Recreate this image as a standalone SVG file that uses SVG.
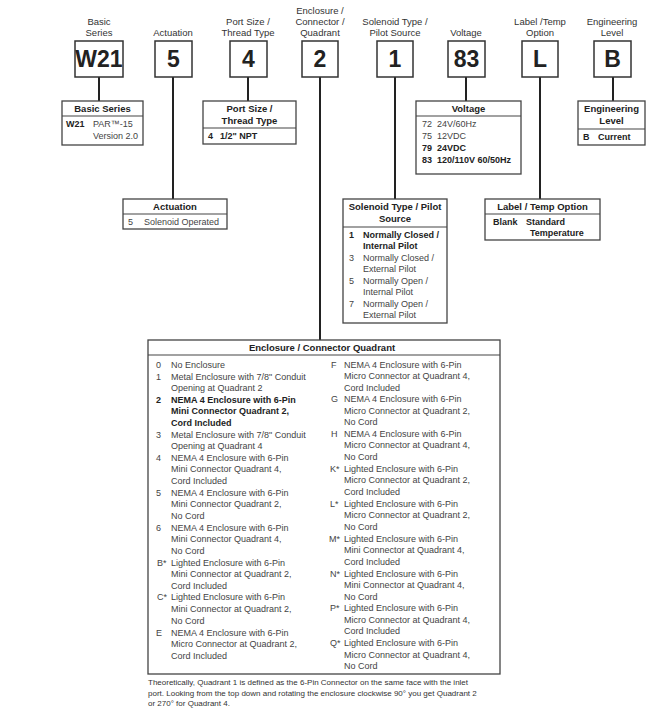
<svg xmlns="http://www.w3.org/2000/svg" width="650" height="709" viewBox="0 0 650 709">
<style>
.lbl{font-family:"Liberation Sans",Arial,sans-serif;font-size:9.5px;fill:#333;text-anchor:middle}
.code{font-family:"Liberation Sans",Arial,sans-serif;font-size:23px;font-weight:bold;fill:#222;text-anchor:middle}
.cbox{fill:#fff;stroke:#333;stroke-width:1.5}
.box{fill:#fff;stroke:#444;stroke-width:1.3}
.sep{stroke:#444;stroke-width:1.1}
.hd{font-family:"Liberation Sans",Arial,sans-serif;font-size:9.5px;font-weight:bold;fill:#222;text-anchor:middle}
.t{font-family:"Liberation Sans",Arial,sans-serif;font-size:9px;fill:#444}
.b{font-family:"Liberation Sans",Arial,sans-serif;font-size:9px;font-weight:bold;fill:#222}
.ft{font-family:"Liberation Sans",Arial,sans-serif;font-size:8px;fill:#333}
.con{stroke:#222;stroke-width:2;fill:none}
</style>
<rect width="650" height="709" fill="#fff"/>
<g id="connectors">
<line class="con" x1="99" y1="77" x2="99" y2="101"/>
<line class="con" x1="173" y1="77" x2="173" y2="199"/>
<line class="con" x1="248" y1="77" x2="248" y2="101"/>
<line class="con" x1="320" y1="77" x2="320" y2="340"/>
<line class="con" x1="395" y1="77" x2="395" y2="199"/>
<line class="con" x1="466" y1="77" x2="466" y2="101"/>
<line class="con" x1="540" y1="77" x2="540" y2="199"/>
<line class="con" x1="613" y1="77" x2="613" y2="101"/>
</g>
<g id="code-w21">
<text class="lbl" x="99" y="25">Basic</text><text class="lbl" x="99" y="36">Series</text>
<rect class="cbox" x="75" y="41" width="48" height="36"/><text class="code" x="99" y="67">W21</text>
</g>
<g id="code-5">
<text class="lbl" x="173" y="36">Actuation</text>
<rect class="cbox" x="155" y="41" width="37" height="36"/><text class="code" x="173.5" y="67">5</text>
</g>
<g id="code-4">
<text class="lbl" x="248" y="25">Port Size /</text><text class="lbl" x="248" y="36">Thread Type</text>
<rect class="cbox" x="230" y="41" width="37" height="36"/><text class="code" x="248.5" y="67">4</text>
</g>
<g id="code-2">
<text class="lbl" x="320" y="14">Enclosure /</text><text class="lbl" x="320" y="25">Connector /</text><text class="lbl" x="320" y="36">Quadrant</text>
<rect class="cbox" x="302" y="41" width="36" height="36"/><text class="code" x="320" y="67">2</text>
</g>
<g id="code-1">
<text class="lbl" x="395" y="25">Solenoid Type /</text><text class="lbl" x="395" y="36">Pilot Source</text>
<rect class="cbox" x="377" y="41" width="36" height="36"/><text class="code" x="395" y="67">1</text>
</g>
<g id="code-83">
<text class="lbl" x="466" y="36">Voltage</text>
<rect class="cbox" x="448" y="41" width="37" height="36"/><text class="code" x="466.5" y="67">83</text>
</g>
<g id="code-l">
<text class="lbl" x="540" y="25">Label /Temp</text><text class="lbl" x="540" y="36">Option</text>
<rect class="cbox" x="522" y="41" width="36" height="36"/><text class="code" x="540" y="67">L</text>
</g>
<g id="code-b">
<text class="lbl" x="612" y="25">Engineering</text><text class="lbl" x="612" y="36">Level</text>
<rect class="cbox" x="594" y="41" width="37" height="36"/><text class="code" x="612.5" y="67">B</text>
</g>
<g id="basic-series">
<rect class="box" x="62" y="101" width="81" height="44"/>
<line class="sep" x1="62" y1="116" x2="143" y2="116"/>
<text class="hd" x="102.5" y="112">Basic Series</text>
<text class="b" x="66" y="127">W21</text><text class="t" x="93" y="127">PAR™-15</text>
<text class="t" x="93" y="139">Version 2.0</text>
</g>
<g id="actuation">
<rect class="box" x="123" y="199" width="104" height="30"/>
<line class="sep" x1="123" y1="214" x2="227" y2="214"/>
<text class="hd" x="175" y="210">Actuation</text>
<text class="t" x="128" y="225">5</text><text class="t" x="144" y="225">Solenoid Operated</text>
</g>
<g id="port-size">
<rect class="box" x="203" y="101" width="93" height="43"/>
<line class="sep" x1="203" y1="128" x2="296" y2="128"/>
<text class="hd" x="249.5" y="112">Port Size /</text><text class="hd" x="249.5" y="124">Thread Type</text>
<text class="b" x="208" y="139">4</text><text class="b" x="220" y="139">1/2" NPT</text>
</g>
<g id="voltage">
<rect class="box" x="416" y="101" width="105" height="73"/>
<line class="sep" x1="416" y1="116" x2="521" y2="116"/>
<text class="hd" x="468.5" y="112">Voltage</text>
<text class="t" x="422" y="127">72</text><text class="t" x="437" y="127">24V/60Hz</text>
<text class="t" x="422" y="139">75</text><text class="t" x="437" y="139">12VDC</text>
<text class="b" x="422" y="151">79</text><text class="b" x="437" y="151">24VDC</text>
<text class="b" x="422" y="163">83</text><text class="b" x="437" y="163">120/110V 60/50Hz</text>
</g>
<g id="engineering-level">
<rect class="box" x="578" y="101" width="67" height="44"/>
<line class="sep" x1="578" y1="129" x2="645" y2="129"/>
<text class="hd" x="611.5" y="112">Engineering</text><text class="hd" x="611.5" y="124">Level</text>
<text class="b" x="583" y="140">B</text><text class="b" x="598" y="140">Current</text>
</g>
<g id="solenoid-type">
<rect class="box" x="343" y="199" width="104" height="124"/>
<line class="sep" x1="343" y1="227" x2="447" y2="227"/>
<text class="hd" x="395" y="210">Solenoid Type / Pilot</text><text class="hd" x="395" y="222">Source</text>
<text class="b" x="349" y="238">1</text><text class="b" x="363" y="238">Normally Closed /</text>
<text class="b" x="363" y="249">Internal Pilot</text>
<text class="t" x="349" y="261">3</text><text class="t" x="363" y="261">Normally Closed /</text>
<text class="t" x="363" y="272">External Pilot</text>
<text class="t" x="349" y="284">5</text><text class="t" x="363" y="284">Normally Open /</text>
<text class="t" x="363" y="295">Internal Pilot</text>
<text class="t" x="349" y="307">7</text><text class="t" x="363" y="307">Normally Open /</text>
<text class="t" x="363" y="318">External Pilot</text>
</g>
<g id="label-temp">
<rect class="box" x="485" y="199" width="115" height="41"/>
<line class="sep" x1="485" y1="214" x2="600" y2="214"/>
<text class="hd" x="542.5" y="210">Label / Temp Option</text>
<text class="b" x="493" y="225">Blank</text><text class="b" x="526" y="225">Standard</text>
<text class="b" x="530" y="236">Temperature</text>
</g>
<g id="enclosure">
<rect class="box" x="148" y="340" width="352" height="334"/>
<line class="sep" x1="148" y1="355" x2="500" y2="355"/>
<text class="hd" x="322" y="351">Enclosure / Connector Quadrant</text>
<text class="t" x="156" y="368">0</text><text class="t" x="171" y="368">No Enclosure</text>
<text class="t" x="156" y="380">1</text><text class="t" x="171" y="380">Metal Enclosure with 7/8" Conduit</text>
<text class="t" x="171" y="391">Opening at Quadrant 2</text>
<text class="b" x="156" y="403">2</text><text class="b" x="171" y="403">NEMA 4 Enclosure with 6-Pin</text>
<text class="b" x="171" y="414">Mini Connector Quadrant 2,</text>
<text class="b" x="171" y="426">Cord Included</text>
<text class="t" x="156" y="438">3</text><text class="t" x="171" y="438">Metal Enclosure with 7/8" Conduit</text>
<text class="t" x="171" y="449">Opening at Quadrant 4</text>
<text class="t" x="156" y="461">4</text><text class="t" x="171" y="461">NEMA 4 Enclosure with 6-Pin</text>
<text class="t" x="171" y="472">Mini Connector Quadrant 4,</text>
<text class="t" x="171" y="484">Cord Included</text>
<text class="t" x="156" y="496">5</text><text class="t" x="171" y="496">NEMA 4 Enclosure with 6-Pin</text>
<text class="t" x="171" y="507">Mini Connector Quadrant 2,</text>
<text class="t" x="171" y="519">No Cord</text>
<text class="t" x="156" y="531">6</text><text class="t" x="171" y="531">NEMA 4 Enclosure with 6-Pin</text>
<text class="t" x="171" y="542">Mini Connector Quadrant 4,</text>
<text class="t" x="171" y="554">No Cord</text>
<text class="t" x="157" y="566">B*</text><text class="t" x="171" y="566">Lighted Enclosure with 6-Pin</text>
<text class="t" x="171" y="577">Mini Connector at Quadrant 2,</text>
<text class="t" x="171" y="589">Cord Included</text>
<text class="t" x="157" y="600">C*</text><text class="t" x="171" y="600">Lighted Enclosure with 6-Pin</text>
<text class="t" x="171" y="612">Mini Connector at Quadrant 2,</text>
<text class="t" x="171" y="624">No Cord</text>
<text class="t" x="156" y="636">E</text><text class="t" x="171" y="636">NEMA 4 Enclosure with 6-Pin</text>
<text class="t" x="171" y="647">Micro Connector at Quadrant 2,</text>
<text class="t" x="171" y="659">Cord Included</text>
<text class="t" x="331" y="368">F</text><text class="t" x="344" y="368">NEMA 4 Enclosure with 6-Pin</text>
<text class="t" x="344" y="379">Micro Connector at Quadrant 4,</text>
<text class="t" x="344" y="391">Cord Included</text>
<text class="t" x="331" y="402">G</text><text class="t" x="344" y="402">NEMA 4 Enclosure with 6-Pin</text>
<text class="t" x="344" y="414">Micro Connector at Quadrant 2,</text>
<text class="t" x="344" y="425">No Cord</text>
<text class="t" x="331" y="437">H</text><text class="t" x="344" y="437">NEMA 4 Enclosure with 6-Pin</text>
<text class="t" x="344" y="448">Micro Connector at Quadrant 4,</text>
<text class="t" x="344" y="460">No Cord</text>
<text class="t" x="330" y="472">K*</text><text class="t" x="344" y="472">Lighted Enclosure with 6-Pin</text>
<text class="t" x="344" y="483">Micro Connector at Quadrant 2,</text>
<text class="t" x="344" y="495">Cord Included</text>
<text class="t" x="330" y="507">L*</text><text class="t" x="344" y="507">Lighted Enclosure with 6-Pin</text>
<text class="t" x="344" y="518">Micro Connector at Quadrant 2,</text>
<text class="t" x="344" y="530">No Cord</text>
<text class="t" x="329" y="542">M*</text><text class="t" x="344" y="542">Lighted Enclosure with 6-Pin</text>
<text class="t" x="344" y="553">Mini Connector at Quadrant 4,</text>
<text class="t" x="344" y="565">Cord Included</text>
<text class="t" x="330" y="577">N*</text><text class="t" x="344" y="577">Lighted Enclosure with 6-Pin</text>
<text class="t" x="344" y="588">Mini Connector at Quadrant 4,</text>
<text class="t" x="344" y="600">No Cord</text>
<text class="t" x="330" y="611">P*</text><text class="t" x="344" y="611">Lighted Enclosure with 6-Pin</text>
<text class="t" x="344" y="623">Micro Connector at Quadrant 4,</text>
<text class="t" x="344" y="634">Cord Included</text>
<text class="t" x="330" y="646">Q*</text><text class="t" x="344" y="646">Lighted Enclosure with 6-Pin</text>
<text class="t" x="344" y="658">Micro Connector at Quadrant 4,</text>
<text class="t" x="344" y="669">No Cord</text>
</g>
<g id="footnote">
<text class="ft" x="148" y="685">Theoretically, Quadrant 1 is defined as the 6-Pin Connector on the same face with the inlet</text>
<text class="ft" x="148" y="696">port. Looking from the top down and rotating the enclosure clockwise 90° you get Quadrant 2</text>
<text class="ft" x="148" y="706">or 270° for Quadrant 4.</text>
</g>
</svg>
